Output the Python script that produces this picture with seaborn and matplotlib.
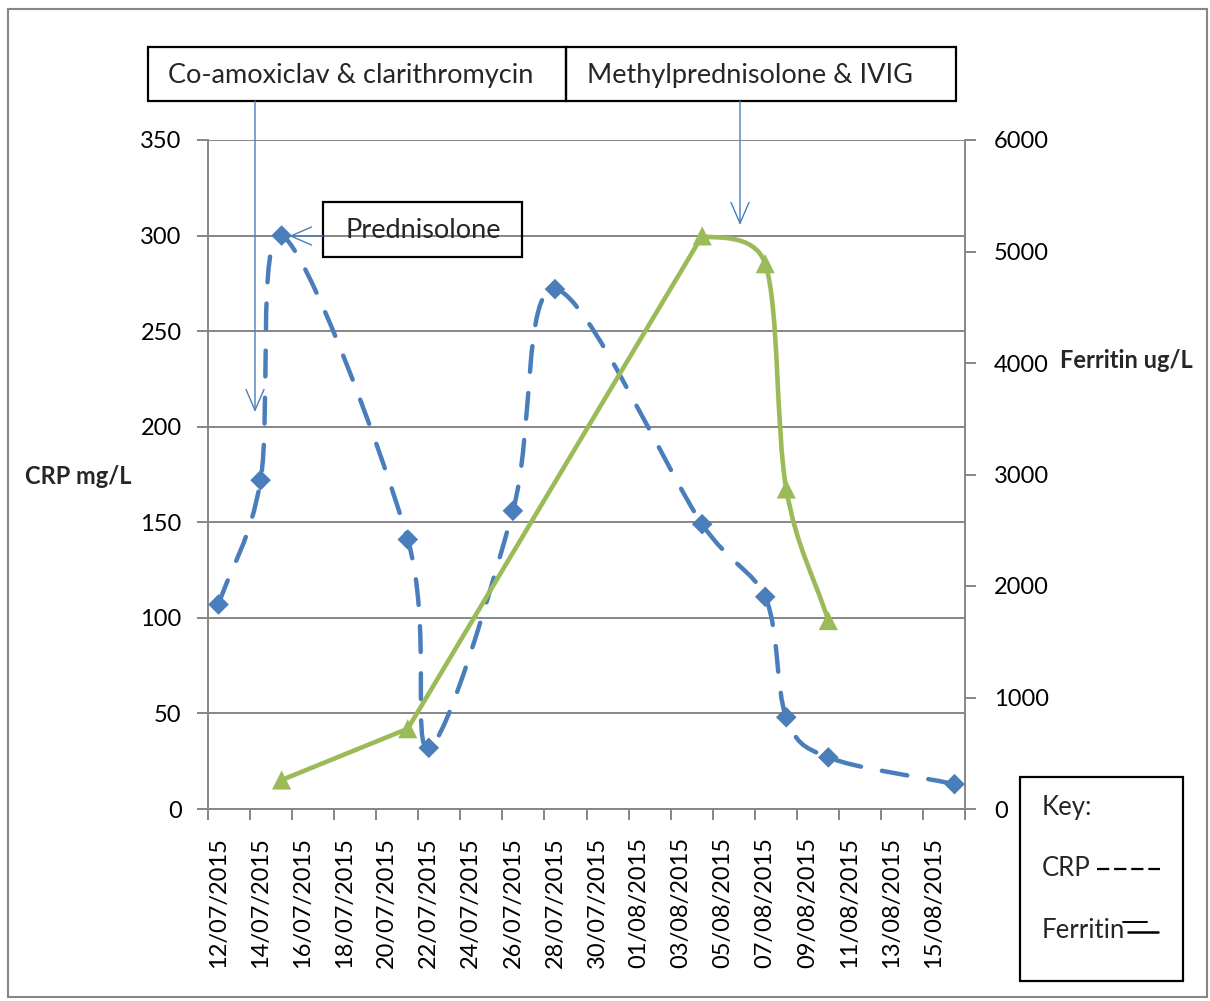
import datetime as dt
import numpy as np
import pandas as pd
import matplotlib
matplotlib.use("Agg")
import matplotlib.pyplot as plt
import seaborn as sns
from matplotlib.path import Path
from matplotlib.patches import PathPatch, Rectangle, FancyArrowPatch, ArrowStyle
from matplotlib.lines import Line2D

# ---------------- data (one row per sample date, blanks = not measured) ----------------
dates = ["12/07/2015", "14/07/2015", "15/07/2015", "21/07/2015", "22/07/2015",
         "26/07/2015", "28/07/2015", "04/08/2015", "07/08/2015", "08/08/2015",
         "10/08/2015", "16/08/2015"]
crp_values = [107, 172, 300, 141, 32, 156, 272, 149, 111, 48, 27, 13]
ferritin_values = [None, None, 260, 720, None, None, None, 5140, 4890, 2870, 1690, None]

tick_labels = ["12/07/2015", "14/07/2015", "16/07/2015", "18/07/2015", "20/07/2015",
               "22/07/2015", "24/07/2015", "26/07/2015", "28/07/2015", "30/07/2015",
               "01/08/2015", "03/08/2015", "05/08/2015", "07/08/2015", "09/08/2015",
               "11/08/2015", "13/08/2015", "15/08/2015"]

crp_ticks = [0, 50, 100, 150, 200, 250, 300, 350]
ferritin_ticks = [0, 1000, 2000, 3000, 4000, 5000, 6000]

start = dt.date(2015, 7, 12)
end = dt.date(2015, 8, 16)


def day_index(s):
    return (dt.datetime.strptime(s, "%d/%m/%Y").date() - start).days


df = pd.DataFrame({"day": [day_index(d) for d in dates],
                   "CRP": crp_values,
                   "Ferritin": pd.array(ferritin_values, dtype="Float64")}).astype({"Ferritin": float})
tick_pos = [day_index(d) for d in tick_labels]
n_days = (end - start).days + 1

# ---------------- style ----------------
sns.set_theme(style="white")
plt.rcParams["font.family"] = ["Lato", "DejaVu Sans"]

BLUE = "#4A7EBB"
GREEN = "#9BBB59"
GRAY = "#868686"
W, H = 1210, 1001

fig = plt.figure(figsize=(W / 100, H / 100), dpi=100)
fig.patch.set_facecolor("white")

L, R, T, B = 208, 965, 140, 809
ax = fig.add_axes([L / W, 1 - B / H, (R - L) / W, (B - T) / H])
ax2 = ax.twinx()

ax.set_xlim(-0.5, n_days - 0.5)
ax.set_ylim(0, 350)
ax2.set_ylim(0, 6000)
ax2.set_xlim(-0.5, n_days - 0.5)

ax.set_yticks(crp_ticks)
ax.yaxis.grid(True, color=GRAY, lw=1.4)
ax.set_axisbelow(True)
ax.xaxis.grid(False)

for a in (ax, ax2):
    for s in a.spines.values():
        s.set_visible(False)
for a, side in ((ax, "left"), (ax, "bottom"), (ax2, "right")):
    a.spines[side].set_visible(True)
    a.spines[side].set_color(GRAY)
    a.spines[side].set_linewidth(1.4)

ax.tick_params(axis="y", direction="out", length=8, width=1.4, color=GRAY,
               labelsize=17, labelcolor="black", pad=11, left=True)
ax2.set_yticks(ferritin_ticks)
ax2.tick_params(axis="y", direction="out", length=8, width=1.4, color=GRAY,
                labelsize=17, labelcolor="black", pad=13, right=True)

ax.set_xticks(tick_pos)
ax.set_xticklabels(tick_labels, rotation=90, fontsize=17)
ax.tick_params(axis="x", which="major", length=0, pad=20, labelcolor="black")
ax.set_xticks(np.arange(-0.5, n_days, 2), minor=True)
ax.tick_params(axis="x", which="minor", direction="out", length=8, width=1.4,
               color=GRAY, bottom=True)


# ---------------- Excel-style smoothed path ----------------
def bezier_ctrl(p0, p1, p2, p3):
    d12 = np.linalg.norm(p2 - p1)
    d02 = np.linalg.norm(p2 - p0)
    d13 = np.linalg.norm(p3 - p1)
    if d12 == 0:
        return p1, p2
    if d02 / 6 < d12 / 2 and d13 / 6 < d12 / 2:
        f1 = 1 / 6 if not np.allclose(p0, p1) else 1 / 3
        f2 = 1 / 6 if not np.allclose(p2, p3) else 1 / 3
        return p1 + (p2 - p0) * f1, p2 - (p3 - p1) * f2
    if d02 / 6 >= d12 / 2 and d13 / 6 >= d12 / 2:
        return p1 + (p2 - p0) * (d12 / 2 / d02), p2 - (p3 - p1) * (d12 / 2 / d13)
    if d02 / 6 >= d12 / 2:
        return p1 + (p2 - p0) * (d12 / 2 / d02), p2 - (p3 - p1) * (d12 / 2 / d02)
    return p1 + (p2 - p0) * (d12 / 2 / d13), p2 - (p3 - p1) * (d12 / 2 / d13)


def excel_path(xs, ys, sx, sy):
    """Smooth within runs of consecutive values; straight across blanks."""
    xs = np.asarray(xs, float)
    ys = np.asarray(ys, float)
    valid = ~np.isnan(ys)
    idx = np.where(valid)[0]
    P = np.column_stack([xs * sx, ys * sy])
    verts, codes = [P[idx[0]]], [Path.MOVETO]
    for k in range(len(idx) - 1):
        i, j = idx[k], idx[k + 1]
        p1, p2 = P[i], P[j]
        if j != i + 1:  # blank rows in between -> straight connector
            verts += [p1 + (p2 - p1) / 3, p1 + 2 * (p2 - p1) / 3, p2]
            codes += [Path.CURVE4] * 3
            continue
        p0 = P[i - 1] if (i - 1 >= 0 and valid[i - 1]) else p1
        p3 = P[j + 1] if (j + 1 < len(P) and valid[j + 1]) else p2
        c1, c2 = bezier_ctrl(p0, p1, p2, p3)
        verts += [c1, c2, p2]
        codes += [Path.CURVE4] * 3
    V = np.array(verts)
    V[:, 0] /= sx
    V[:, 1] /= sy
    return Path(V, codes)


sx = (R - L) / n_days
crp_path = excel_path(df["day"], df["CRP"], sx, (B - T) / 350)
fer_path = excel_path(df["day"], df["Ferritin"], sx, (B - T) / 6000)

ax.add_patch(PathPatch(crp_path, facecolor="none", edgecolor=BLUE, lw=3.2,
                       linestyle=(0, (5.8, 4.8)), capstyle="round", zorder=3))
sns.scatterplot(data=df, x="day", y="CRP", ax=ax, marker="D", s=110,
                color=BLUE, edgecolor="none", linewidth=0, zorder=4, legend=False)

ax2.add_patch(PathPatch(fer_path, facecolor="none", edgecolor=GREEN, lw=3.3,
                        capstyle="round", joinstyle="round", zorder=3))
sns.scatterplot(data=df.dropna(subset=["Ferritin"]), x="day", y="Ferritin", ax=ax2,
                marker="^", s=190, color=GREEN, edgecolor="none", linewidth=0,
                zorder=4, legend=False)

ax.set_xlabel("")
ax.set_ylabel("")
ax2.set_ylabel("")
ax2.set_xlim(-0.5, n_days - 0.5)
ax2.set_ylim(0, 6000)


# ---------------- figure decorations ----------------
def fx(x):
    return x / W


def fy(y):
    return 1 - y / H


def box(x0, y0, x1, y1, color="black", lw=1.6):
    fig.add_artist(Rectangle((fx(x0), fy(y1)), fx(x1) - fx(x0), fy(y0) - fy(y1),
                             transform=fig.transFigure, facecolor="none",
                             edgecolor=color, lw=lw, zorder=5))


def arrow(x0, y0, x1, y1):
    fig.add_artist(FancyArrowPatch((fx(x0), fy(y0)), (fx(x1), fy(y1)),
                                   transform=fig.transFigure,
                                   arrowstyle=ArrowStyle("->", head_length=15, head_width=6.5),
                                   mutation_scale=1, color=BLUE, lw=1.0,
                                   shrinkA=0, shrinkB=0, zorder=6))


box(8, 9, 1207, 997, color=GRAY, lw=1.5)

fig.text(fx(25), fy(476), "CRP mg/L", fontsize=17, fontweight="bold", ha="left", va="center")
fig.text(fx(1060), fy(361), "Ferritin ug/L", fontsize=17, fontweight="bold", ha="left", va="center")

box(148, 47, 566, 101)
fig.text(fx(168), fy(76), "Co-amoxiclav & clarithromycin", fontsize=19.5, ha="left", va="center")
box(566, 47, 956, 101)
fig.text(fx(587), fy(76), "Methylprednisolone & IVIG", fontsize=19.5, ha="left", va="center")
box(323, 202, 522, 257)
fig.text(fx(345), fy(230), "Prednisolone", fontsize=19.5, ha="left", va="center")

arrow(255, 101, 255, 412)
arrow(740, 101, 740, 225)
arrow(323, 236, 289, 236)

box(1020, 777, 1183, 981)
fig.text(fx(1042), fy(808), "Key:", fontsize=18.5, ha="left", va="center")
fig.text(fx(1042), fy(869), "CRP", fontsize=18.5, ha="left", va="center")
fig.add_artist(Line2D([fx(1097), fx(1160)], [fy(869), fy(869)], transform=fig.transFigure,
                      color="black", lw=1.6, linestyle=(0, (5.5, 2.2))))
fig.text(fx(1042), fy(930), "Ferritin", fontsize=18.5, ha="left", va="center")
fig.add_artist(Line2D([fx(1123), fx(1147)], [fy(922), fy(922)], transform=fig.transFigure,
                      color="black", lw=1.4))
fig.add_artist(Line2D([fx(1128), fx(1158)], [fy(932), fy(932)], transform=fig.transFigure,
                      color="black", lw=1.8))

fig.savefig("out.png", dpi=100, facecolor="white")
